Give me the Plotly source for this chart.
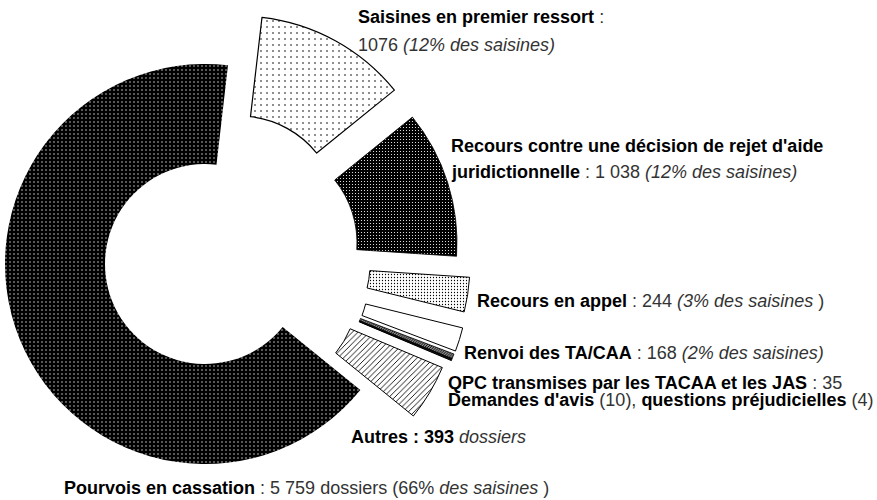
import plotly.graph_objects as go

# ---- data ----
categories = [
    "Saisines en premier ressort",
    "Recours contre une décision de rejet d'aide juridictionnelle",
    "Recours en appel",
    "Renvoi des TA/CAA",
    "QPC transmises par les TACAA et les JAS",
    "Demandes d'avis",
    "Questions préjudicielles",
    "Autres",
    "Pourvois en cassation",
]
values = [1076, 1038, 244, 168, 35, 10, 4, 393, 5759]

# ---- styling / layout constants ----
W, H = 877, 500
CX, CY, R = 205, 264, 200          # pie centre and radius in pixels
HOLE = 0.5
ROTATION = 6.6

# per-slice offset (exploded pieces), in pixels
offsets = [(34, -48), (52, -21), (65, 0), (63.5, 16), (62, 19), (62, 19), (62, 19), (53, 26), (0, 0)]
bgcols = ["white", "black", "white", "white", "white", "black", "white", "white", "black"]
pshape = [".", ".", ".", "", "/", "", "", "/", "."]
pfg = ["black", "white", "black", "black", "black", "black", "black", "black", "white"]
psize = [6, 3, 3, 4, 2, 4, 4, 4, 4]
psolid = [0.06, 0.12, 0.14, 0.2, 0.6, 0.2, 0.2, 0.22, 0.08]
lwidth = [1.2, 0.8, 1, 1, 0.8, 0.8, 1, 1, 0]

TRANSP = "rgba(0,0,0,0)"
n = len(values)
order = [n - 1] + list(range(n - 1))   # draw the big slice first

fig = go.Figure()
for i in order:
    dx, dy = offsets[i]
    cx, cy = CX + dx, CY + dy
    dom_x = [(cx - R) / W, (cx + R) / W]
    dom_y = [1 - (cy + R) / H, 1 - (cy - R) / H]
    cols = [bgcols[j] if j == i else TRANSP for j in range(n)]
    shapes = [pshape[j] if j == i else "" for j in range(n)]
    fgs = [pfg[j] if j == i else TRANSP for j in range(n)]
    bgs = [bgcols[j] if j == i else TRANSP for j in range(n)]
    sizes = [psize[j] for j in range(n)]
    solid = [psolid[j] for j in range(n)]
    lw = [lwidth[j] if j == i else 0 for j in range(n)]
    lc = ["black" if j == i else TRANSP for j in range(n)]
    fig.add_trace(go.Pie(
        labels=categories, values=values, sort=False, direction="clockwise",
        rotation=ROTATION, hole=HOLE, textinfo="none", hoverinfo="skip",
        showlegend=False,
        domain=dict(x=dom_x, y=dom_y),
        marker=dict(
            colors=cols,
            line=dict(color=lc, width=lw),
            pattern=dict(shape=shapes, fgcolor=fgs, bgcolor=bgs, size=sizes,
                         solidity=solid, fillmode="replace"),
        ),
    ))

# ---- annotations ----
FONT = "Liberation Sans, Arial, sans-serif"
FS = 18
BOLD = "#000000"
REG = "#333333"

def b(t):
    return f"<b><span style='color:{BOLD}'>{t}</span></b>"

def it(t):
    return f"<i>{t}</i>"

labels_text = [
    (356, 17, b("Saisines en premier ressort") + " :"),
    (356, 45, f"{values[0]} " + it("(12% des saisines)")),
    (449, 146, b("Recours contre une décision de rejet d'aide")),
    (449, 172, b("juridictionnelle") + " : 1 038 " + it("(12% des saisines)")),
    (475, 301, b("Recours en appel") + f" : {values[2]} " + it("(3% des saisines") + " )"),
    (462, 353, b("Renvoi des TA/CAA") + f" : {values[3]} " + it("(2% des saisines)")),
    (446, 383, b("QPC transmises par les TACAA et les JAS") + f" : {values[4]}"),
    (446, 400, b("Demandes d'avis") + f" ({values[5]}), " + b("questions préjudicielles") + f" ({values[6]})"),
    (349, 437, b(f"Autres : {values[7]}") + " " + it("dossiers")),
    (62, 488, b("Pourvois en cassation") + " : 5 759 dossiers (66% " + it("des saisines") + " )"),
]

for x, y, t in labels_text:
    fig.add_annotation(
        x=x / W, y=1 - y / H, xref="paper", yref="paper",
        xanchor="left", yanchor="middle", showarrow=False,
        text=t, font=dict(family=FONT, size=FS, color=REG),
    )

fig.update_layout(
    width=W, height=H,
    margin=dict(l=0, r=0, t=0, b=0),
    paper_bgcolor="white", plot_bgcolor="white",
)

fig.write_html(
    "out.html",
    config={"displayModeBar": False},
    post_script="document.body.style.margin='0';document.body.style.overflow='hidden';",
)
